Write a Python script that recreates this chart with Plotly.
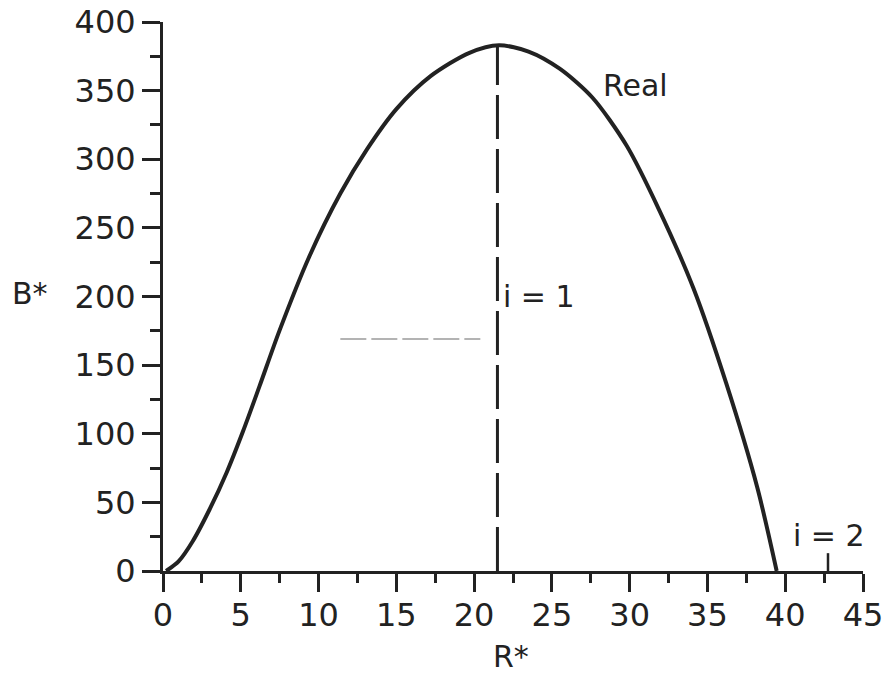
import plotly.graph_objects as go

# Real curve: B* as a function of R*
r_star = [0.2, 1.0, 1.9, 3.0, 4.1, 5.15, 6.2, 7.5, 9.4, 11.4, 13.1, 15.0, 17.2,
          19.7, 21.6, 23.5, 25.5, 27.6, 29.8, 31.9, 34.1, 36.2, 38.2, 39.45]
b_star = [0, 7, 21.5, 45, 72, 102, 134.5, 175.5, 229, 275, 307, 336.5, 360.5,
          377.5, 383, 378.5, 366, 345, 310, 263, 206, 137, 61, 0]

# i = 1 marker (vertical dashed line at the maximum)
i1_x = [21.5, 21.5]
i1_y = [0, 383]

# faint horizontal guide
guide_x = [11.4, 20.4]
guide_y = [169, 169]

# i = 2 marker (small tick on the R* axis)
i2_x = [42.75, 42.75]
i2_y = [0, 13]

x_ticks = [0, 5, 10, 15, 20, 25, 30, 35, 40, 45]
y_ticks = [0, 50, 100, 150, 200, 250, 300, 350, 400]

INK = "#222222"
FONT = "DejaVu Sans"

fig = go.Figure()

fig.add_trace(go.Scatter(
    x=guide_x, y=guide_y, mode="lines",
    line=dict(color="#9a9a9a", width=1.5, dash="26px,5px"),
    hoverinfo="skip", showlegend=False))

fig.add_trace(go.Scatter(
    x=i1_x, y=i1_y, mode="lines",
    line=dict(color=INK, width=3, dash="44px,10px"),
    hoverinfo="skip", showlegend=False))

fig.add_trace(go.Scatter(
    x=i2_x, y=i2_y, mode="lines",
    line=dict(color=INK, width=2.5),
    hoverinfo="skip", showlegend=False))

fig.add_trace(go.Scatter(
    x=r_star, y=b_star, mode="lines", name="Real",
    line=dict(color=INK, width=4, shape="spline", smoothing=0.8),
    showlegend=False))

axis_common = dict(
    showgrid=False, zeroline=False, showline=True,
    linecolor=INK, linewidth=3,
    ticks="outside", ticklen=18, tickwidth=2.5, tickcolor=INK,
    tickfont=dict(family=FONT, size=32, color=INK),
    ticklabeloverflow="allow", automargin=False,
)

fig.update_xaxes(
    range=[0, 45], tickvals=x_ticks, ticktext=[str(v) for v in x_ticks],
    minor=dict(ticks="outside", ticklen=9, tickwidth=2.5, tickcolor=INK, dtick=2.5, tick0=0),
    ticklabelstandoff=-4,
    **axis_common)
fig.update_yaxes(
    range=[0, 400], tickvals=y_ticks, ticktext=[str(v) for v in y_ticks],
    minor=dict(ticks="outside", ticklen=10, tickwidth=2.5, tickcolor=INK, dtick=25, tick0=0),
    ticklabelstandoff=0,
    **axis_common)

text_font = dict(family=FONT, size=30, color=INK)
fig.add_annotation(x=30.4, y=354, text="Real", showarrow=False, font=text_font)
fig.add_annotation(x=24.2, y=200, text="i = 1", showarrow=False, font=text_font)
fig.add_annotation(x=42.8, y=26, text="i = 2", showarrow=False, font=text_font)

# axis names, placed in paper units relative to the 700x549 plot area
fig.add_annotation(x=-133 / 700, y=(571 - 293) / 549, xref="paper", yref="paper",
                   xanchor="center", yanchor="middle", text="B*",
                   showarrow=False, font=text_font)
fig.add_annotation(x=(511 - 163) / 700, y=-(656 - 571) / 549, xref="paper", yref="paper",
                   xanchor="center", yanchor="middle", text="R*",
                   showarrow=False, font=text_font)

fig.update_layout(
    width=882, height=673,
    margin=dict(l=163, r=19, t=22, b=102, autoexpand=False),
    paper_bgcolor="white", plot_bgcolor="white",
)

fig.write_html("out.html")
